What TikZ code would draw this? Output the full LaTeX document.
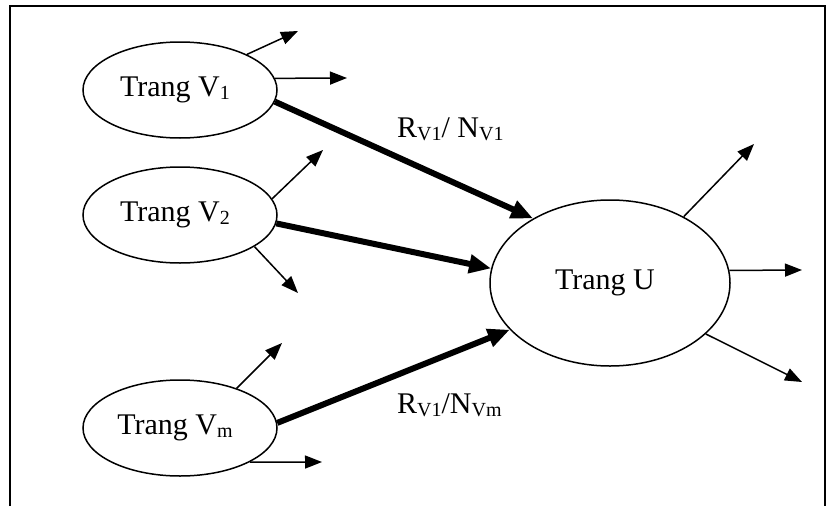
\documentclass[tikz,border=0pt]{standalone}
\usepackage{fontspec}
\setmainfont{Liberation Serif}
\usetikzlibrary{shapes.geometric,arrows.meta}
\newcommand{\lowsub}[1]{\raisebox{-3pt}{\fontsize{20}{22}\selectfont #1}}
\tikzset{
  page/.style={ellipse,draw,line width=1.5pt,inner sep=0pt,
    font=\fontsize{30}{34}\selectfont},
  small/.style={page,minimum width=194pt,minimum height=96pt},
  big/.style={page,minimum width=240pt,minimum height=166pt},
  outlink/.style={line width=1.5pt,-{Triangle[length=17pt,width=13pt]}},
  inlink/.style={line width=6pt,-{Triangle[length=22pt,width=18pt]}},
  weight/.style={inner sep=0pt,anchor=base west,font=\fontsize{30}{34}\selectfont},
  frame/.style={line width=2pt}
}
\begin{document}
\begin{tikzpicture}[x=1pt,y=-1pt]
  \useasboundingbox (0,0) rectangle (827,506);
  % open frame (no bottom edge)
  \draw[frame] (10,506) -- (10,6) -- (825,6) -- (825,506);

  % pages
  \node[small] (v1) at (180,90)  {Trang V\lowsub{1}\kern10pt};
  \node[small] (v2) at (180,215) {Trang V\lowsub{2}\kern10pt};
  \node[small] (vm) at (180,428) {Trang V\lowsub{m}\kern10pt};
  \node[big]   (u)  at (610,283) {Trang U\kern10pt};

  % free ends of outgoing links
  \coordinate (v1a) at (298,31);
  \coordinate (v1b) at (347,78);
  \coordinate (v2a) at (323,150);
  \coordinate (v2b) at (298,293);
  \coordinate (vma) at (282,343);
  \coordinate (vmb) at (322,462);
  \coordinate (ua)  at (754,144);
  \coordinate (ub)  at (802,270);
  \coordinate (uc)  at (802,382);

  % outgoing links
  \draw[outlink] (v1.28)  -- (v1a);
  \draw[outlink] (v1.7)   -- (v1b);
  \draw[outlink] (v2.10)  -- (v2a);
  \draw[outlink] (v2.-23) -- (v2b);
  \draw[outlink] (vm.35)  -- (vma);
  \draw[outlink] (vm.-26) -- (vmb);
  \draw[outlink] (u.42)   -- (ua);
  \draw[outlink] (u.6)    -- (ub);
  \draw[outlink] (u.-28)  -- (uc);

  % links into U
  \draw[inlink] (v1.-7)  -- (u.140);
  \draw[inlink] (v2.-5)  -- (u.173);
  \draw[inlink] (vm.3)   -- (u.205);

  % weights
  \node[weight] (w1) at (397,137) {R\lowsub{V1}/ N\lowsub{V1}};
  \node[weight] (wm) at (397,413) {R\lowsub{V1}/N\lowsub{Vm}};
\end{tikzpicture}
\end{document}
